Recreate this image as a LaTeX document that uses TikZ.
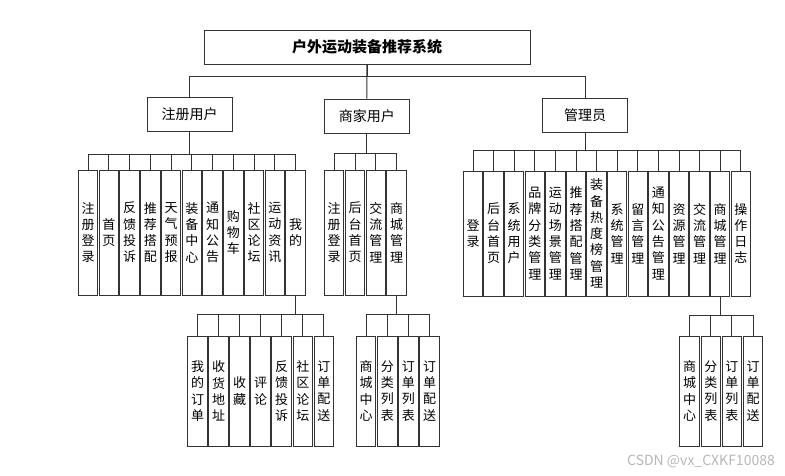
\documentclass[tikz,border=0pt]{standalone}
\usepackage{fontspec}
\setmainfont{Noto Sans CJK SC}
\begin{document}
\begin{tikzpicture}[x=1pt,y=-1pt,
  cbox/.style={draw=black!80, line width=1pt, minimum width=19.5pt, inner sep=0pt, align=center, font=\fontsize{13}{16.3}\selectfont},
  pbox/.style={draw=black!80, line width=1pt, minimum width=85pt, minimum height=34pt, inner sep=0pt, font=\fontsize{14}{14}\selectfont},
  conn/.style={draw=black!80, line width=1pt}]
\useasboundingbox[fill=white] (0,0) rectangle (785,475);

\node[pbox, minimum width=326pt, font=\fontsize{15}{15}\selectfont\bfseries] (sys) at (367,47) {户外运动装备推荐系统};
\node[pbox] (reg) at (189.7,114.5) {注册用户};
\node[pbox] (mer) at (366.8,116) {商家用户};
\node[pbox] (adm) at (585.2,115.2) {管理员};

\draw[conn] (sys.south) -- (mer.north);
\draw[conn] (sys.south) -- ++(0,12) -| (reg.north);
\draw[conn] (sys.south) -- ++(0,12) -| (adm.north);

\foreach \t [count=\i from 0] in {注\\册\\登\\录, 首\\页, 反\\馈\\投\\诉, 推\\荐\\搭\\配, 天\\气\\预\\报, 装\\备\\中\\心, 通\\知\\公\\告, 购\\物\\车, 社\\区\\论\\坛, 运\\动\\资\\讯, 我\\的}{
  \node[cbox, minimum height=125pt] (L\i) at ({88+\i*20.77},232.5) {\t};
  \draw[conn] (reg.south) -- ++(0,22) -| (L\i.north);
}

\foreach \t [count=\i from 0] in {注\\册\\登\\录, 后\\台\\首\\页, 交\\流\\管\\理, 商\\城\\管\\理}{
  \node[cbox, minimum height=125pt] (M\i) at ({334.2+\i*20.8},232.5) {\t};
  \draw[conn] (mer.south) -- ++(0,20) -| (M\i.north);
}

\foreach \t [count=\i from 0] in {登\\录, 后\\台\\首\\页, 系\\统\\用\\户, 品\\牌\\分\\类\\管\\理, 运\\动\\场\\景\\管\\理, 推\\荐\\搭\\配\\管\\理, 装\\备\\热\\度\\榜\\管\\理, 系\\统\\管\\理, 留\\言\\管\\理, 通\\知\\公\\告\\管\\理, 资\\源\\管\\理, 交\\流\\管\\理, 商\\城\\管\\理, 操\\作\\日\\志}{
  \node[cbox, minimum height=125pt] (R\i) at ({473+\i*20.6},233.5) {\t};
  \draw[conn] (adm.south) -- ++(0,18) -| (R\i.north);
}

\foreach \t [count=\i from 0] in {我\\的\\订\\单, 收\\货\\地\\址, 收\\藏, 评\\论, 反\\馈\\投\\诉, 社\\区\\论\\坛, 订\\单\\配\\送}{
  \node[cbox, minimum height=110pt] (A\i) at ({197.5+\i*21.05},391) {\t};
  \draw[conn] (L10.south) -- ++(0,19) -| (A\i.north);
}

\foreach \t [count=\i from 0] in {商\\城\\中\\心, 分\\类\\列\\表, 订\\单\\列\\表, 订\\单\\配\\送}{
  \node[cbox, minimum height=110pt] (B\i) at ({366.2+\i*21.1},391) {\t};
  \draw[conn] (M3.south) -- ++(0,19) -| (B\i.north);
}

\foreach \t [count=\i from 0] in {商\\城\\中\\心, 分\\类\\列\\表, 订\\单\\列\\表, 订\\单\\配\\送}{
  \node[cbox, minimum height=110pt] (C\i) at ({689.7+\i*21.1},391) {\t};
  \draw[conn] (R12.south) -- ++(0,19) -| (C\i.north);
}

\node[text=black!28, font=\fontsize{14}{14}\selectfont, inner sep=0pt] (wm) at (701,461) {CSDN @vx\_CXKF10088};
\end{tikzpicture}
\end{document}
